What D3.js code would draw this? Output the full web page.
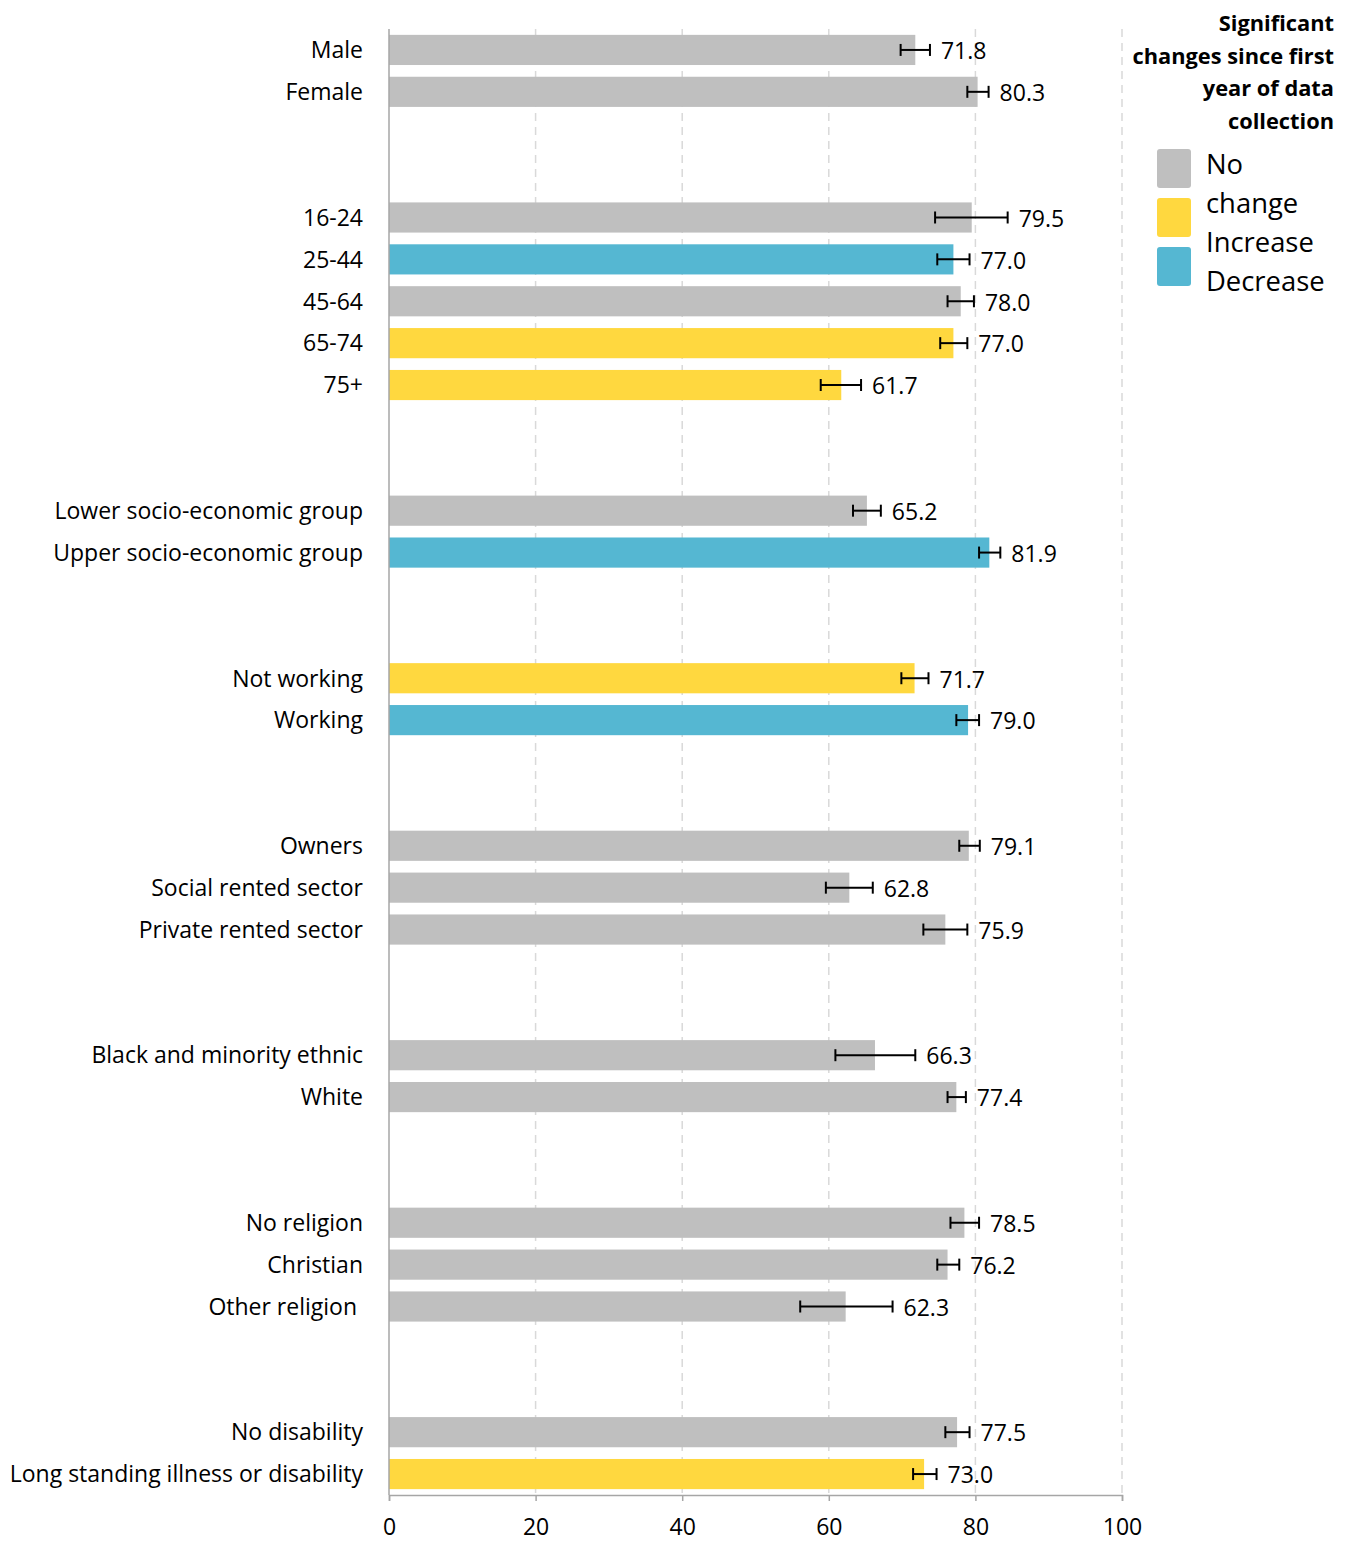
<!DOCTYPE html>
<html>
<head>
<meta charset="utf-8">
<script src="https://cdn.jsdelivr.net/npm/d3@7"></script>
<style>
  html, body { margin: 0; padding: 0; background: #fff; }
  svg { display: block; font-family: "Open Sans", sans-serif; }
</style>
</head>
<body>
<svg id="chart" width="1347" height="1542"></svg>
<script>
// ---- Data ----
const groups = [
  ["Male", "Female"],
  ["16-24", "25-44", "45-64", "65-74", "75+"],
  ["Lower socio-economic group", "Upper socio-economic group"],
  ["Not working", "Working"],
  ["Owners", "Social rented sector", "Private rented sector"],
  ["Black and minority ethnic", "White"],
  ["No religion", "Christian", "Other religion "],
  ["No disability", "Long standing illness or disability"]
];
const values = [71.8, 80.3, 79.5, 77.0, 78.0, 77.0, 61.7, 65.2, 81.9, 71.7, 79.0,
                79.1, 62.8, 75.9, 66.3, 77.4, 78.5, 76.2, 62.3, 77.5, 73.0];
const ciLow  = [69.8, 78.9, 74.5, 74.8, 76.2, 75.2, 58.9, 63.3, 80.5, 69.9, 77.4,
                77.8, 59.6, 72.9, 60.9, 76.2, 76.6, 74.8, 56.1, 75.9, 71.5];
const ciHigh = [73.8, 81.8, 84.4, 79.2, 79.8, 78.9, 64.4, 67.1, 83.4, 73.6, 80.5,
                80.6, 66.0, 78.9, 71.8, 78.7, 80.5, 77.8, 68.7, 79.2, 74.7];
const change = ["none", "none", "none", "decrease", "none", "increase", "increase",
                "none", "decrease", "increase", "decrease",
                "none", "none", "none", "none", "none", "none", "none", "none",
                "none", "increase"];
const xTicks = [0, 20, 40, 60, 80, 100];
const legendTitle = ["Significant", "changes since first", "year of data", "collection"];
const legendKeys = ["none", "increase", "decrease"];
const legendLabels = ["No", "change", "Increase", "Decrease"];

// ---- Styles ----
const colors = { none: "#bfbfbf", increase: "#ffd83f", decrease: "#55b7d2" };
const gapSlots = 2;

// Build rows with slot positions
const rows = [];
let slot = 0, idx = 0;
groups.forEach((g, gi) => {
  if (gi > 0) slot += gapSlots;
  g.forEach(name => {
    rows.push({ name, slot, value: values[idx], lo: ciLow[idx], hi: ciHigh[idx], change: change[idx] });
    slot++; idx++;
  });
});
const nSlots = slot;

const svg = d3.select("#chart");
const plotLeft = 389, plotRight = 1122, plotTop = 29, plotBottom = 1495;

const x = d3.scaleLinear().domain([0, 100]).range([plotLeft, plotRight]);
const y = d3.scaleBand().domain(d3.range(nSlots)).range([plotTop, plotBottom])
  .paddingInner(0.28).paddingOuter(0.14);

// Gridlines
svg.append("g").selectAll("line").data(xTicks.filter(d => d > 0)).join("line")
  .attr("x1", d => x(d)).attr("x2", d => x(d))
  .attr("y1", plotTop).attr("y2", plotBottom)
  .attr("stroke", "#d9d9d9").attr("stroke-width", 1.5)
  .attr("stroke-dasharray", "8,6");

// Bars
svg.append("g").selectAll("rect").data(rows).join("rect")
  .attr("x", x(0)).attr("y", d => y(d.slot))
  .attr("width", d => x(d.value) - x(0))
  .attr("height", y.bandwidth())
  .attr("fill", d => colors[d.change]);

// Error bars
const eb = svg.append("g").attr("stroke", "#000").attr("stroke-width", 2);
rows.forEach(d => {
  const cy = y(d.slot) + y.bandwidth() / 2;
  eb.append("line").attr("x1", x(d.lo)).attr("x2", x(d.hi)).attr("y1", cy).attr("y2", cy);
  eb.append("line").attr("x1", x(d.lo)).attr("x2", x(d.lo)).attr("y1", cy - 6).attr("y2", cy + 6);
  eb.append("line").attr("x1", x(d.hi)).attr("x2", x(d.hi)).attr("y1", cy - 6).attr("y2", cy + 6);
});

// Value labels
svg.append("g").selectAll("text").data(rows).join("text")
  .attr("x", d => x(d.hi) + 11)
  .attr("y", d => y(d.slot) + y.bandwidth() / 2 + 1)
  .attr("dy", "0.36em")
  .attr("font-size", 23)
  .attr("fill", "#000")
  .text(d => d.value.toFixed(1));

// Category labels
svg.append("g").selectAll("text").data(rows).join("text")
  .attr("x", 363)
  .attr("y", d => y(d.slot) + y.bandwidth() / 2)
  .attr("dy", "0.36em")
  .attr("text-anchor", "end")
  .attr("font-size", 23)
  .style("white-space", "pre")
  .attr("fill", "#000")
  .text(d => d.name);

// Left axis line
svg.append("line").attr("x1", plotLeft).attr("x2", plotLeft).attr("y1", plotTop).attr("y2", plotBottom)
  .attr("stroke", "#a6a6a6").attr("stroke-width", 1.5);

// Bottom axis
const xAxis = svg.append("g").attr("transform", `translate(0,${plotBottom})`)
  .call(d3.axisBottom(x).tickValues(xTicks).tickSize(6).tickPadding(18).tickSizeOuter(6));
xAxis.select(".domain").attr("stroke", "#a6a6a6").attr("stroke-width", 1.5);
xAxis.selectAll(".tick line").attr("stroke", "#a6a6a6").attr("stroke-width", 1.5);
xAxis.selectAll(".tick text").attr("font-size", 23).attr("fill", "#000")
  .attr("font-family", "'Open Sans', sans-serif");

// Legend
const lg = svg.append("g");
lg.selectAll("text.title").data(legendTitle).join("text")
  .attr("class", "title")
  .attr("x", 1334).attr("y", (d, i) => 31 + i * 32.5)
  .attr("text-anchor", "end").attr("font-size", 21.8).attr("font-weight", "bold")
  .text(d => d);
lg.selectAll("rect").data(legendKeys).join("rect")
  .attr("x", 1157).attr("y", (d, i) => 149 + i * 49)
  .attr("width", 34).attr("height", 39).attr("rx", 3)
  .attr("fill", d => colors[d]);
lg.selectAll("text.lab").data(legendLabels).join("text")
  .attr("class", "lab")
  .attr("x", 1206).attr("y", (d, i) => 164 + i * 39)
  .attr("dy", "0.36em").attr("font-size", 27.4)
  .text(d => d);
</script>
</body>
</html>
